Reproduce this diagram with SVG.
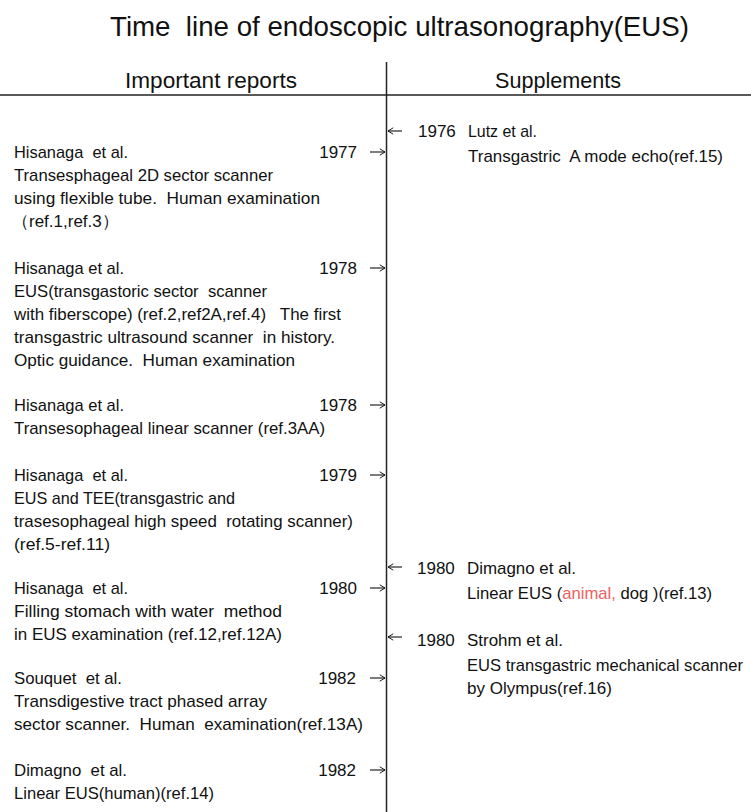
<svg xmlns="http://www.w3.org/2000/svg" width="751" height="812" viewBox="0 0 751 812">
<style>
text{font-family:"Liberation Sans",Arial,sans-serif;fill:#111}
.t{font-size:17px}
.y{font-size:17px;text-anchor:end}
.h{font-size:22px;text-anchor:middle}
.a{stroke:#111;stroke-width:1.1;fill:none}
.red{fill:#f06060}
</style>
<defs>
<marker id="ah" viewBox="0 0 10 10" refX="9.5" refY="5" markerWidth="8" markerHeight="8" orient="auto" markerUnits="userSpaceOnUse">
<path d="M3,1 L9.5,5 L3,9" fill="none" stroke="#111" stroke-width="1.2"/>
</marker>
</defs>
<rect width="751" height="812" fill="#fff"/>
<g id="title"><text x="110" y="36" style="font-size:27.8px" textLength="579" lengthAdjust="spacingAndGlyphs" xml:space="preserve">Time  line of endoscopic ultrasonography(EUS)</text></g>
<g id="axes">
<line x1="0" y1="95" x2="751" y2="95" stroke="#222" stroke-width="1.5"/>
<line x1="386.5" y1="62" x2="386.5" y2="812" stroke="#222" stroke-width="1.5"/>
<text class="h" x="211" y="88" textLength="172" lengthAdjust="spacingAndGlyphs">Important reports</text>
<text class="h" x="558" y="88" textLength="126" lengthAdjust="spacingAndGlyphs">Supplements</text>
</g>
<g id="connectors">
<line class="a" x1="370" y1="152" x2="385" y2="152" marker-end="url(#ah)"/>
<line class="a" x1="370" y1="268" x2="385" y2="268" marker-end="url(#ah)"/>
<line class="a" x1="370" y1="405" x2="385" y2="405" marker-end="url(#ah)"/>
<line class="a" x1="370" y1="475" x2="385" y2="475" marker-end="url(#ah)"/>
<line class="a" x1="370" y1="588" x2="385" y2="588" marker-end="url(#ah)"/>
<line class="a" x1="370" y1="678" x2="385" y2="678" marker-end="url(#ah)"/>
<line class="a" x1="370" y1="770" x2="385" y2="770" marker-end="url(#ah)"/>
<line class="a" x1="402" y1="131" x2="388" y2="131" marker-end="url(#ah)"/>
<line class="a" x1="402" y1="567" x2="388" y2="567" marker-end="url(#ah)"/>
<line class="a" x1="402" y1="637" x2="388" y2="637" marker-end="url(#ah)"/>
</g>
<g id="n1977">
<text class="y" x="357" y="158">1977</text>
<text class="t" x="14" y="158" textLength="114" lengthAdjust="spacingAndGlyphs" xml:space="preserve">Hisanaga  et al.</text>
<text class="t" x="14" y="181" textLength="259" lengthAdjust="spacingAndGlyphs">Transesphageal 2D sector scanner</text>
<text class="t" x="14" y="204" textLength="306" lengthAdjust="spacingAndGlyphs" xml:space="preserve">using flexible tube.  Human examination</text>
<text class="t" x="12" y="227">（ref.1,ref.3）</text>
</g>
<g id="n1978a">
<text class="y" x="357" y="274">1978</text>
<text class="t" x="14" y="274" textLength="110" lengthAdjust="spacingAndGlyphs">Hisanaga et al.</text>
<text class="t" x="14" y="297" textLength="253" lengthAdjust="spacingAndGlyphs" xml:space="preserve">EUS(transgastoric sector  scanner</text>
<text class="t" x="14" y="320" textLength="327" lengthAdjust="spacingAndGlyphs" xml:space="preserve">with fiberscope) (ref.2,ref2A,ref.4)   The first</text>
<text class="t" x="14" y="343" textLength="321" lengthAdjust="spacingAndGlyphs" xml:space="preserve">transgastric ultrasound scanner  in history.</text>
<text class="t" x="14" y="366" textLength="281" lengthAdjust="spacingAndGlyphs" xml:space="preserve">Optic guidance.  Human examination</text>
</g>
<g id="n1978b">
<text class="y" x="357" y="411">1978</text>
<text class="t" x="14" y="411" textLength="110" lengthAdjust="spacingAndGlyphs">Hisanaga et al.</text>
<text class="t" x="14" y="434" textLength="311" lengthAdjust="spacingAndGlyphs">Transesophageal linear scanner (ref.3AA)</text>
</g>
<g id="n1979">
<text class="y" x="357" y="481">1979</text>
<text class="t" x="14" y="481" textLength="114" lengthAdjust="spacingAndGlyphs" xml:space="preserve">Hisanaga  et al.</text>
<text class="t" x="14" y="504" textLength="221" lengthAdjust="spacingAndGlyphs">EUS and TEE(transgastric and</text>
<text class="t" x="14" y="527" textLength="339" lengthAdjust="spacingAndGlyphs" xml:space="preserve">trasesophageal high speed  rotating scanner)</text>
<text class="t" x="14" y="550" textLength="96" lengthAdjust="spacingAndGlyphs">(ref.5-ref.11)</text>
</g>
<g id="n1980a">
<text class="y" x="357" y="594">1980</text>
<text class="t" x="14" y="594" textLength="114" lengthAdjust="spacingAndGlyphs" xml:space="preserve">Hisanaga  et al.</text>
<text class="t" x="14" y="617" textLength="268" lengthAdjust="spacingAndGlyphs" xml:space="preserve">Filling stomach with water  method</text>
<text class="t" x="14" y="640" textLength="268" lengthAdjust="spacingAndGlyphs">in EUS examination (ref.12,ref.12A)</text>
</g>
<g id="n1982a">
<text class="y" x="356" y="684">1982</text>
<text class="t" x="14" y="684" textLength="108" lengthAdjust="spacingAndGlyphs" xml:space="preserve">Souquet  et al.</text>
<text class="t" x="14" y="707" textLength="253" lengthAdjust="spacingAndGlyphs">Transdigestive tract phased array</text>
<text class="t" x="14" y="730" textLength="349" lengthAdjust="spacingAndGlyphs" xml:space="preserve">sector scanner.  Human  examination(ref.13A)</text>
</g>
<g id="n1982b">
<text class="y" x="356" y="776">1982</text>
<text class="t" x="14" y="776" textLength="113" lengthAdjust="spacingAndGlyphs" xml:space="preserve">Dimagno  et al.</text>
<text class="t" x="14" y="799" textLength="200" lengthAdjust="spacingAndGlyphs">Linear EUS(human)(ref.14)</text>
</g>
<g id="s1976">
<text class="t" x="418" y="137">1976</text>
<text class="t" x="468" y="137" textLength="69" lengthAdjust="spacingAndGlyphs">Lutz et al.</text>
<text class="t" x="468" y="162" textLength="255" lengthAdjust="spacingAndGlyphs" xml:space="preserve">Transgastric  A mode echo(ref.15)</text>
</g>
<g id="s1980a">
<text class="t" x="417" y="574">1980</text>
<text class="t" x="467" y="574" textLength="109" lengthAdjust="spacingAndGlyphs">Dimagno et al.</text>
<text class="t" x="467" y="599" textLength="245" lengthAdjust="spacingAndGlyphs" xml:space="preserve">Linear EUS (<tspan class="red">animal,</tspan> dog )(ref.13)</text>
</g>
<g id="s1980b">
<text class="t" x="417" y="646">1980</text>
<text class="t" x="467" y="646" textLength="96" lengthAdjust="spacingAndGlyphs">Strohm et al.</text>
<text class="t" x="467" y="671" textLength="276" lengthAdjust="spacingAndGlyphs">EUS transgastric mechanical scanner</text>
<text class="t" x="467" y="694" textLength="145" lengthAdjust="spacingAndGlyphs">by Olympus(ref.16)</text>
</g>
</svg>
